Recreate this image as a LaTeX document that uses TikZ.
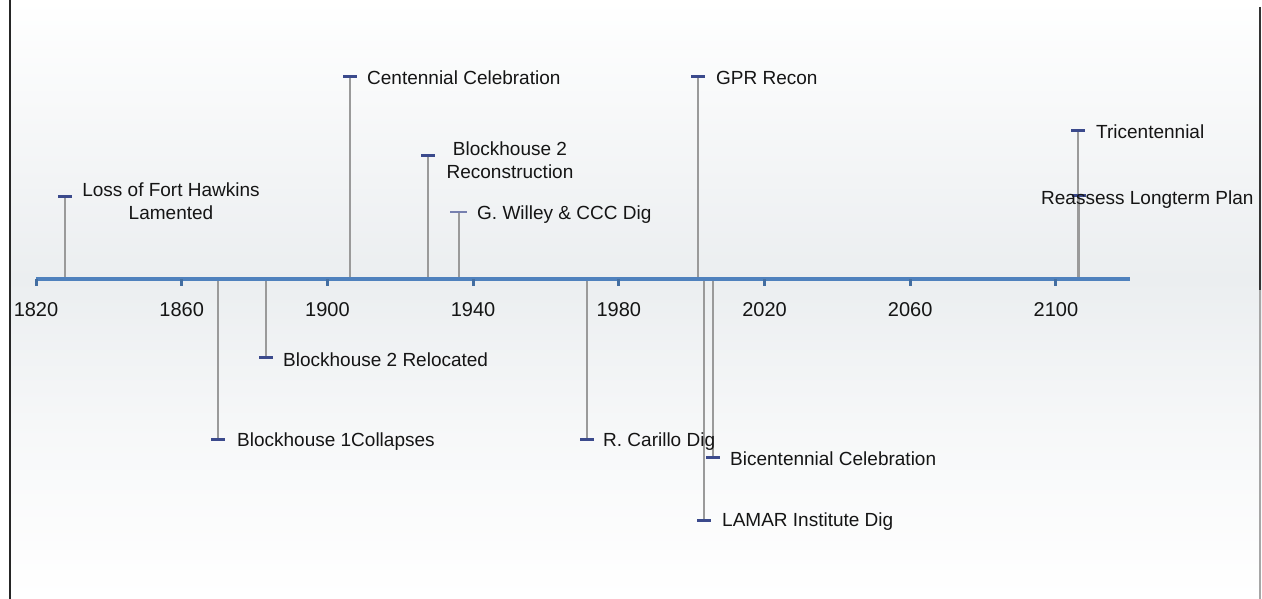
\documentclass[tikz,border=0pt]{standalone}
\usepackage{fontspec}
\setmainfont{Liberation Sans}
\definecolor{axisblue}{HTML}{4F81BD}
\definecolor{markblue}{HTML}{3B4A8C}
\definecolor{stemgray}{HTML}{9A9A9A}
\definecolor{bggray}{HTML}{EBEEF0}
\definecolor{txt}{HTML}{151515}
\begin{document}
\begin{tikzpicture}[x=1pt,y=-1pt,
  lbl/.style={font=\fontsize{19}{22}\selectfont, text=txt, inner sep=0pt, anchor=west},
  twolbl/.style={font=\fontsize{19}{22.5}\selectfont, text=txt, inner sep=0pt, align=center},
  yearlbl/.style={font=\fontsize{20}{22}\selectfont, text=txt, inner sep=0pt},
  stemline/.style={draw=stemgray, line width=1.3pt},
  marker/.style={draw=markblue, line width=3pt},
  lightmarker/.style={draw=markblue!70, line width=1.5pt}]
\useasboundingbox (0,0) rectangle (1262,599);
% background
\shade[top color=white, bottom color=bggray] (11,0) rectangle (1262,279);
\shade[top color=bggray, bottom color=white, middle color=bggray!40] (11,279) rectangle (1262,599);
% frame lines
\draw[black!85, line width=2pt] (10,0) -- (10,599);
\draw[black!80, line width=1.8pt] (1260,7) -- (1260,290);
\draw[black!35, line width=1.5pt] (1260,290) -- (1260,599);

% stems (drawn first, under axis)
\coordinate (aLoss) at (65,279);   \coordinate (mLoss) at (65,197);
\coordinate (aCent) at (350,279);  \coordinate (mCent) at (350,77);
\coordinate (aRec) at (428,279);   \coordinate (mRec) at (428,156);
\coordinate (aWil) at (459,279);   \coordinate (mWil) at (459,212);
\coordinate (aGPR) at (698,279);   \coordinate (mGPR) at (698,77);
\coordinate (aTri) at (1078,279);  \coordinate (mTri) at (1078,131);
\coordinate (aRea) at (1079,279);  \coordinate (mRea) at (1079,196);
\coordinate (aCol) at (218,279);   \coordinate (mCol) at (218,439);
\coordinate (aRel) at (266,279);   \coordinate (mRel) at (266,357);
\coordinate (aCar) at (587,279);   \coordinate (mCar) at (587,439);
\coordinate (aBic) at (713,279);   \coordinate (mBic) at (713,457);
\coordinate (aLam) at (704,279);   \coordinate (mLam) at (704,520);

\foreach \n in {Loss,Cent,Rec,Wil,GPR,Tri,Col,Rel,Car,Bic,Lam}
  \draw[stemline] (a\n) -- (m\n);
\draw[stemline, line width=2.2pt] (aRea) -- (mRea);

% axis
\coordinate (axL) at (36,279);
\coordinate (axR) at (1130,279);
\draw[axisblue, line width=3.5pt] (axL) -- (axR);
\foreach \i/\yr in {0/1820,1/1860,2/1900,3/1940,4/1980,5/2020,6/2060,7/2100}{
  \pgfmathsetmacro{\tx}{36+\i*145.7}
  \draw[axisblue!85!black, line width=3pt] (\tx,279) -- (\tx,286);
  \node[yearlbl] (y\yr) at (\tx,310) {\yr};
}

% markers
\foreach \n in {Loss,Cent,Rec,GPR,Tri,Rea,Col,Rel,Car,Bic,Lam}
  \draw[marker] ([xshift=-7pt]m\n) -- ([xshift=7pt]m\n);
\draw[lightmarker] ([xshift=-9pt]mWil) -- ([xshift=8pt]mWil);

% labels above
\node[twolbl] (tLoss) at (171,201) {Loss of Fort Hawkins\\Lamented};
\node[lbl] (tCent) at (367,78) {Centennial Celebration};
\node[twolbl] (tRec) at (510,160) {Blockhouse 2\\Reconstruction};
\node[lbl] (tWil) at (477,215) {G. Willey \& CCC Dig};
\node[lbl] (tGPR) at (716,78) {GPR Recon};
\node[lbl] (tTri) at (1096,132) {Tricentennial};
\node[lbl] (tRea) at (1041,200) {Reassess Longterm Plan};

% labels below
\node[lbl] (tCol) at (237,442) {Blockhouse 1Collapses};
\node[lbl] (tRel) at (283,360) {Blockhouse 2 Relocated};
\node[lbl] (tCar) at (603,442) {R. Carillo Dig};
\node[lbl] (tBic) at (730,459) {Bicentennial Celebration};
\node[lbl] (tLam) at (722,522) {LAMAR Institute Dig};
\end{tikzpicture}
\end{document}
